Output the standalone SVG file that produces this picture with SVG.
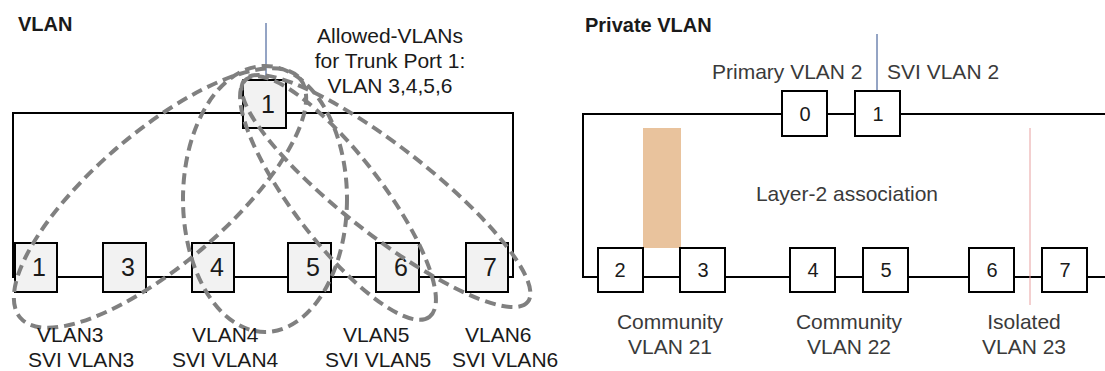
<svg xmlns="http://www.w3.org/2000/svg" width="1105" height="371" viewBox="0 0 1105 371">
<style>
  .t { font-family: "Liberation Sans", Arial, sans-serif; font-size: 21px; fill: #1a1a1a; }
  .tr { font-family: "Liberation Sans", Arial, sans-serif; font-size: 21px; fill: #3a3a3a; }
  .title { font-family: "Liberation Sans", Arial, sans-serif; font-size: 20px; font-weight: bold; fill: #1a1a1a; }
  .num { font-family: "Liberation Sans", Arial, sans-serif; font-size: 25px; fill: #1a1a1a; text-anchor: middle; }
  .numr { font-family: "Liberation Sans", Arial, sans-serif; font-size: 20px; fill: #1a1a1a; text-anchor: middle; }
  .c { text-anchor: middle; }
  .box { fill: #f2f2f2; stroke: #000; stroke-width: 2; }
  .boxw { fill: #ffffff; stroke: #000; stroke-width: 2; }
  .wire { fill: none; stroke: #000; stroke-width: 2; }
  .lead { stroke: #2a4a8a; stroke-width: 1; }
  .vl { fill: none; stroke: #808080; stroke-width: 4; stroke-dasharray: 11 6; }
</style>

<!-- Titles -->
<text class="title" x="18" y="31">VLAN</text>
<text class="title" x="585" y="32">Private VLAN</text>

<!-- Left annotation -->
<text class="t c" x="390" y="43">Allowed-VLANs</text>
<text class="t c" x="390" y="68">for Trunk Port 1:</text>
<text class="t c" x="390" y="93">VLAN 3,4,5,6</text>

<!-- Connectors -->
<g id="connectors">
  <line class="lead" x1="266" y1="23" x2="266" y2="80"/>
  <polyline class="wire" points="243,113 13,113 13,277 513,277 513,113 286,113"/>
  <line class="lead" x1="877" y1="34" x2="877" y2="91"/>
  <polyline class="wire" points="782,114 583,114 583,277 1105,277"/>
  <line class="wire" x1="827" y1="114" x2="855" y2="114"/>
  <line class="wire" x1="900" y1="114" x2="1105" y2="114"/>
</g>

<!-- Left nodes -->
<g id="trunk1"><rect class="box" x="243" y="80" width="43" height="48"/><text class="num" x="268" y="113">1</text></g>
<g id="port1"><rect class="box" x="15" y="243" width="42" height="49"/><text class="num" x="39" y="276">1</text></g>
<g id="port3"><rect class="box" x="103" y="243" width="43" height="49"/><text class="num" x="128" y="276">3</text></g>
<g id="port4"><rect class="box" x="192" y="243" width="42" height="49"/><text class="num" x="217" y="276">4</text></g>
<g id="port5"><rect class="box" x="288" y="243" width="43" height="49"/><text class="num" x="313" y="276">5</text></g>
<g id="port6"><rect class="box" x="376" y="243" width="43" height="49"/><text class="num" x="401" y="276">6</text></g>
<g id="port7"><rect class="box" x="466" y="243" width="42" height="49"/><text class="num" x="490" y="276">7</text></g>

<!-- VLAN groupings -->
<g id="vlan-groups">
  <ellipse class="vl" cx="160" cy="198" rx="184" ry="66" transform="rotate(-40.6 160 198)"/>
  <ellipse class="vl" cx="265" cy="199" rx="82" ry="133"/>
  <ellipse class="vl" cx="338" cy="198" rx="150" ry="44" transform="rotate(52.4 338 198)"/>
  <ellipse class="vl" cx="386" cy="191" rx="180" ry="44" transform="rotate(38 386 191)"/>
</g>

<!-- Left labels -->
<text class="t" x="37" y="342">VLAN3</text>
<text class="t" x="28" y="367">SVI VLAN3</text>
<text class="t" x="192" y="342">VLAN4</text>
<text class="t" x="172" y="367">SVI VLAN4</text>
<text class="t" x="343" y="342">VLAN5</text>
<text class="t" x="325" y="367">SVI VLAN5</text>
<text class="t" x="465" y="342">VLAN6</text>
<text class="t" x="452" y="367">SVI VLAN6</text>

<!-- Right diagram -->
<rect x="643" y="128" width="38" height="120" fill="#e9c39d"/>
<line x1="1030" y1="128" x2="1030" y2="305" stroke="#e8a0a0" stroke-width="1"/>

<text class="tr" x="712" y="79">Primary VLAN 2</text>
<text class="tr" x="887" y="79">SVI VLAN 2</text>
<text class="tr c" x="847" y="201">Layer-2 association</text>

<g id="p0"><rect class="boxw" x="782" y="91" width="45" height="45"/><text class="numr" x="805" y="121">0</text></g>
<g id="p1"><rect class="boxw" x="855" y="91" width="45" height="45"/><text class="numr" x="878" y="121">1</text></g>
<g id="p2"><rect class="boxw" x="598" y="248" width="45" height="44"/><text class="numr" x="620" y="277">2</text></g>
<g id="p3"><rect class="boxw" x="680" y="248" width="45" height="44"/><text class="numr" x="703" y="277">3</text></g>
<g id="p4"><rect class="boxw" x="790" y="248" width="45" height="44"/><text class="numr" x="813" y="277">4</text></g>
<g id="p5"><rect class="boxw" x="863" y="248" width="45" height="44"/><text class="numr" x="886" y="277">5</text></g>
<g id="p6"><rect class="boxw" x="969" y="248" width="45" height="44"/><text class="numr" x="992" y="277">6</text></g>
<g id="p7"><rect class="boxw" x="1042" y="248" width="45" height="44"/><text class="numr" x="1065" y="277">7</text></g>

<text class="tr c" x="670" y="329">Community</text>
<text class="tr c" x="670" y="354">VLAN 21</text>
<text class="tr c" x="849" y="329">Community</text>
<text class="tr c" x="849" y="354">VLAN 22</text>
<text class="tr c" x="1024" y="329">Isolated</text>
<text class="tr c" x="1024" y="354">VLAN 23</text>
</svg>
